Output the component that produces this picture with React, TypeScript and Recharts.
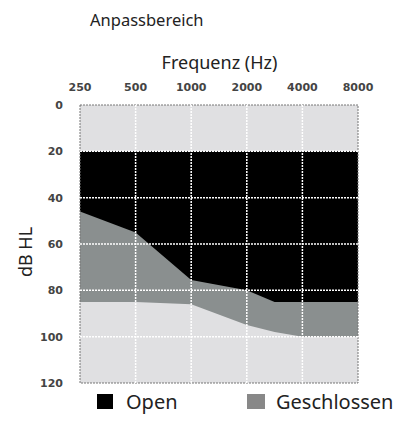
import {
  ComposedChart,
  Area,
  XAxis,
  YAxis,
  CartesianGrid,
  ReferenceLine,
  ReferenceArea,
} from "recharts";

// octave position: 0 = 250 Hz ... 5 = 8000 Hz
const freqLabels = ["250", "500", "1000", "2000", "4000", "8000"];
const positions = [0, 1, 2, 3, 3.5, 4, 5];
const openLow = [20, 20, 20, 20, 20, 20, 20];
const openHigh = [85, 85, 85, 85, 85, 85, 85];
const closedTop = [46, 55, 75.5, 80, 85, 85, 85];
const closedBottom = [85, 85, 86, 95, 98, 100, 100];
const dbTicks = [0, 20, 40, 60, 80, 100, 120];

const data = positions.map((p, i) => ({
  pos: p,
  open: [openLow[i], openHigh[i]],
  closed: [closedTop[i], closedBottom[i]],
}));

const xTick = {
  fontFamily: "DejaVu Sans",
  fontWeight: 700,
  fontSize: 11,
  fill: "#444",
};
const yTick = { ...xTick };

export default function App() {
  return (
    <div
      style={{
        position: "absolute",
        left: 0,
        top: 0,
        width: 400,
        height: 423,
        background: "#fff",
        fontFamily: "Noto Sans, sans-serif",
        color: "#222",
      }}
    >
      <div style={{ position: "absolute", left: 90, top: 12, fontSize: 16.5, lineHeight: "16.5px" }}>
        Anpassbereich
      </div>
      <div
        style={{
          position: "absolute",
          left: 0,
          width: 439,
          top: 53,
          fontSize: 18,
          lineHeight: "18px",
          textAlign: "center",
        }}
      >
        Frequenz (Hz)
      </div>
      <div
        style={{
          position: "absolute",
          left: 25,
          top: 252,
          fontSize: 18,
          lineHeight: "18px",
          transform: "translate(-50%, -50%) rotate(-90deg)",
          whiteSpace: "nowrap",
        }}
      >
        dB HL
      </div>
      <ComposedChart
        width={400}
        height={423}
        data={data}
        margin={{ top: 75, right: 42, bottom: 40, left: 30 }}
      >
        <CartesianGrid fill="#e0e0e2" horizontal={false} vertical={false} />
        <XAxis
          dataKey="pos"
          type="number"
          orientation="top"
          domain={[0, 5]}
          ticks={[0, 1, 2, 3, 4, 5]}
          tickFormatter={(v) => freqLabels[v]}
          tick={xTick}
          axisLine={false}
          tickLine={false}
          tickSize={12}
          height={30}
        />
        <YAxis
          type="number"
          reversed
          domain={[0, 120]}
          ticks={dbTicks}
          tick={yTick}
          axisLine={false}
          tickLine={false}
          tickSize={15}
          width={50}
        />
        <Area
          type="linear"
          dataKey="open"
          fill="#000"
          fillOpacity={1}
          stroke="none"
          isAnimationActive={false}
        />
        <Area
          type="linear"
          dataKey="closed"
          fill="#8a8f8f"
          fillOpacity={1}
          stroke="none"
          isAnimationActive={false}
        />
        {[1, 2, 3, 4].map((x) => (
          <ReferenceLine key={"x" + x} x={x} stroke="#fff" strokeWidth={1.5} strokeDasharray="2 1" />
        ))}
        {[20, 40, 60, 80, 100].map((y) => (
          <ReferenceLine key={"y" + y} y={y} stroke="#fff" strokeWidth={1.5} strokeDasharray="2 1" />
        ))}
        <ReferenceArea
          x1={0}
          x2={5}
          y1={0}
          y2={120}
          fill="none"
          stroke="#777"
          strokeDasharray="2 1"
          fillOpacity={0}
        />
      </ComposedChart>
      <div style={{ position: "absolute", left: 97, top: 394, width: 16, height: 15, background: "#000" }} />
      <div style={{ position: "absolute", left: 126, top: 392, fontSize: 20, lineHeight: "20px" }}>Open</div>
      <div style={{ position: "absolute", left: 247, top: 394, width: 18, height: 15, background: "#888" }} />
      <div style={{ position: "absolute", left: 276, top: 392, fontSize: 20, lineHeight: "20px" }}>
        Geschlossen
      </div>
    </div>
  );
}
